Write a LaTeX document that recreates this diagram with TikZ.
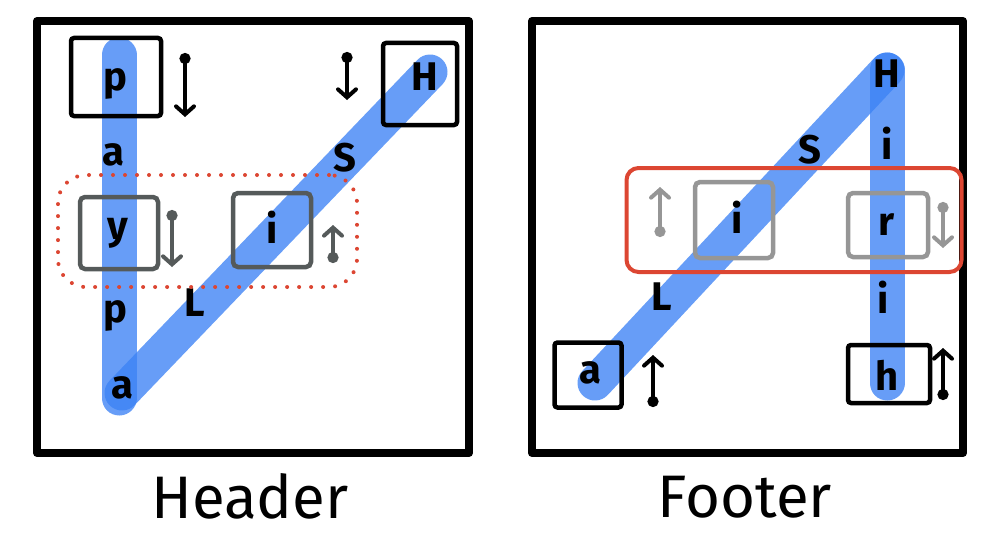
\documentclass[tikz,border=0pt]{standalone}
\usepackage{fontspec}
\setmainfont{Fira Sans}
\usetikzlibrary{arrows.meta}
\definecolor{hlblue}{RGB}{60,130,245}
\definecolor{dgray}{RGB}{85,90,90}
\definecolor{lgray}{RGB}{150,150,150}
\definecolor{redd}{RGB}{220,70,50}
\tikzset{
  frame/.style={draw=black,line width=8pt,line join=round},
  stroke/.style={draw=hlblue,opacity=0.78,line width=35pt,line cap=round},
  ltr/.style={font=\fontsize{40}{40}\selectfont\bfseries,inner sep=0pt},
  bbox/.style={draw=black,line width=4.5pt,rounded corners=3pt,inner sep=0pt},
  gbox/.style={draw=dgray,line width=4.5pt,rounded corners=5pt,inner sep=0pt},
  lbox/.style={draw=lgray,line width=4.5pt,rounded corners=5pt,inner sep=0pt},
  mv/.style={line width=4pt,line cap=round,{Circle[length=11pt]}-{Straight Barb[length=8pt,width=18pt,line cap=round]}},
  caption/.style={font=\fontsize{60}{60}\selectfont,inner sep=0pt}
}
\begin{document}
\begin{tikzpicture}[x=1pt,y=-1pt]
\useasboundingbox (0,0) rectangle (1000,543);
% frames
\draw[frame] (37,21) rectangle (469,453);
\draw[frame] (532,21) rectangle (963,453);

% ===== LEFT PANEL =====
\coordinate (lvtop) at (119,55);
\coordinate (lvbot) at (119,398);
\coordinate (ldbot) at (122,393);
\coordinate (ldtop) at (430,72);
\draw[stroke] (lvtop) -- (lvbot);
\draw[stroke] (ldbot) -- (ldtop);

\node[bbox,minimum width=90pt,minimum height=78pt] (lbP) at (116,77) {};
\node[bbox,minimum width=74pt,minimum height=82pt] (lbH) at (420,84) {};
\node[gbox,minimum width=78pt,minimum height=72pt] (lbY) at (119,233) {};
\node[gbox,minimum width=78pt,minimum height=74pt] (lbI) at (272,230) {};

\node[ltr] (lP) at (115,84) {p};
\node[ltr] (la1) at (113,155) {a};
\node[ltr] (ly) at (118,233) {y};
\node[ltr] (lp) at (115,316) {p};
\node[ltr] (la2) at (122,388) {a};
\node[ltr] (lL) at (195,303) {L};
\node[ltr] (li) at (272,227) {i};
\node[ltr] (lS) at (345,158) {S};
\node[ltr] (lH) at (425,77) {H};

\coordinate (la1s) at (185,53); \coordinate (la1e) at (185,117);
\coordinate (la2s) at (347,52); \coordinate (la2e) at (347,100);
\coordinate (la3s) at (172,210); \coordinate (la3e) at (172,267);
\coordinate (la4s) at (333,263); \coordinate (la4e) at (333,225);
\draw[mv] (la1s) -- (la1e);
\draw[mv] (la2s) -- (la2e);
\draw[mv,dgray] (la3s) -- (la3e);
\draw[mv,dgray] (la4s) -- (la4e);

\node[draw=redd,line width=4pt,dash pattern=on 0pt off 12pt,line cap=round,
      rounded corners=28pt,minimum width=299pt,minimum height=112pt,inner sep=0pt]
      (lsel) at (207.5,231) {};

% ===== RIGHT PANEL =====
\coordinate (rdbot) at (595,383);
\coordinate (rdtop) at (887,70);
\coordinate (rvtop) at (887,70);
\coordinate (rvbot) at (887,383);
\draw[stroke] (rdbot) -- (rdtop);
\draw[stroke] (rvtop) -- (rvbot);

\node[lbox,minimum width=78pt,minimum height=76pt] (rbI) at (734,220) {};
\node[lbox,minimum width=80pt,minimum height=64pt] (rbR) at (888,225) {};
\node[bbox,minimum width=67pt,minimum height=65pt] (rbA) at (588,375) {};
\node[bbox,minimum width=82pt,minimum height=58pt] (rbH) at (889,374) {};

\node[ltr] (rH) at (887,74) {H};
\node[ltr] (ri1) at (887,143) {i};
\node[ltr] (rS) at (810,150) {S};
\node[ltr] (ri2) at (737,217) {i};
\node[ltr] (rr) at (887,225) {r};
\node[ltr] (ri3) at (883,297) {i};
\node[ltr] (rL) at (662,297) {L};
\node[ltr] (ra) at (590,373) {a};
\node[ltr] (rh) at (887,375) {h};

\coordinate (ra1s) at (660,237); \coordinate (ra1e) at (660,187);
\coordinate (ra2s) at (943,202); \coordinate (ra2e) at (943,248);
\coordinate (ra3s) at (653,407); \coordinate (ra3e) at (653,355);
\coordinate (ra4s) at (943,400); \coordinate (ra4e) at (943,348);
\draw[mv,lgray] (ra1s) -- (ra1e);
\draw[mv,lgray] (ra2s) -- (ra2e);
\draw[mv] (ra3s) -- (ra3e);
\draw[mv] (ra4s) -- (ra4e);

\node[draw=redd,line width=4pt,rounded corners=12pt,
      minimum width=335pt,minimum height=104pt,inner sep=0pt]
      (rsel) at (794,220) {};

% captions
\node[caption] (cap1) at (250,496) {Header};
\node[caption] (cap2) at (745,497) {Footer};
\end{tikzpicture}
\end{document}
